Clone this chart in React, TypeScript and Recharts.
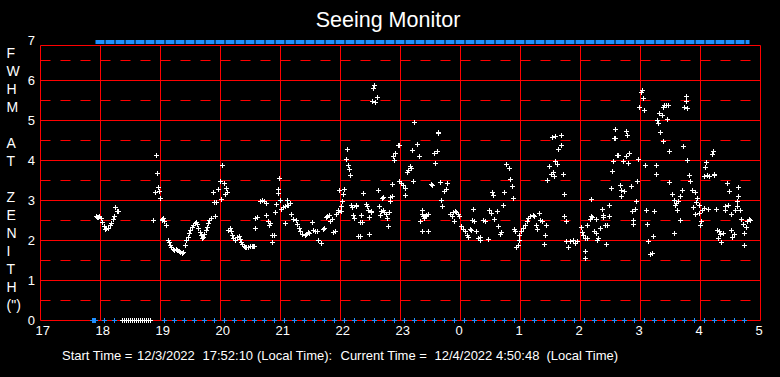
import React from "react";
import { ScatterChart, Scatter, XAxis, YAxis, ReferenceLine } from "recharts";

// ---------- data ----------
const hourTicks = [17, 18, 19, 20, 21, 22, 23, 24, 25, 26, 27, 28, 29];
const fwhmTicks = [0, 1, 2, 3, 4, 5, 6, 7];
const solidLevels = [0, 1, 2, 3, 4, 5, 6];
const dashedLevels = [0.5, 1.5, 2.5, 3.5, 4.5, 5.5, 6.5];
const frameTop = 6.875;
const bandLevel = 6.9625;

const title = "Seeing Monitor";
const axisLetters = ["F", "W", "H", "M", "", "A", "T", "", "Z", "E", "N", "I", "T", "H", "(\")"];
const footerParts = [
  "Start Time =",
  "12/3/2022",
  "17:52:10",
  "(Local Time):",
  "Current Time =",
  "12/4/2022",
  "4:50:48",
  "(Local Time)",
];

// coverage band along the top (start / end clock time)
const coverageSpan = ["17:55", "4:49"];

// status markers along the bottom
const statusBlueTimes = [
  "17:52", "17:53", "17:54", "17:55", "18:04", "18:14",
  "19:04", "19:14", "19:24", "19:34", "19:44", "19:54",
  "20:04", "20:14", "20:24", "20:34", "20:44", "20:54",
  "21:04", "21:14", "21:24", "21:34", "21:44", "21:54",
  "22:04", "22:14", "22:24", "22:34", "22:44", "22:54",
  "23:04", "23:14", "23:24", "23:34", "23:44", "23:54",
  "0:04", "0:14", "0:24", "0:34", "0:44", "0:54",
  "1:04", "1:14", "1:24", "1:34", "1:44", "1:54",
  "2:04", "2:14", "2:24", "2:34", "2:44", "2:54",
  "3:04", "3:14", "3:24", "3:34", "3:44", "3:54",
  "4:04", "4:14", "4:24", "4:34", "4:44",
];
const statusWhiteTimes = [
  "18:22", "18:24", "18:26", "18:28", "18:30", "18:32", "18:34", "18:36",
  "18:38", "18:40", "18:42", "18:44", "18:46", "18:48", "18:50",
];

// FWHM samples: [hour (next day = 24+), arcsec]
const seeing18: [number, number][] = [
  [17.93, 2.6], [17.95, 2.58], [17.96, 2.57], [17.98, 2.6], [18.02, 2.55], [18.04, 2.44], [18.07, 2.34],
  [18.09, 2.27], [18.1, 2.3], [18.13, 2.3], [18.16, 2.37], [18.18, 2.43], [18.21, 2.52], [18.23, 2.6],
  [18.25, 2.83], [18.28, 2.73], [18.3, 2.73],
];
const seeing19: [number, number][] = [
  [18.89, 2.5], [18.92, 3.19], [18.93, 4.12], [18.95, 3.68], [18.96, 3.33], [18.99, 3.23], [19.0, 3.05],
  [19.03, 2.52], [19.04, 2.5], [19.05, 2.55], [19.07, 2.47], [19.1, 2.38], [19.13, 2.0], [19.15, 1.95],
  [19.17, 1.88], [19.19, 1.82], [19.21, 1.78], [19.23, 1.76], [19.26, 1.77], [19.28, 1.75], [19.31, 1.73],
  [19.33, 1.7], [19.36, 1.68], [19.39, 1.7], [19.42, 1.88], [19.44, 2.0], [19.46, 2.08], [19.48, 2.18],
  [19.5, 2.26], [19.53, 2.33], [19.55, 2.38], [19.58, 2.42], [19.6, 2.46], [19.62, 2.4], [19.64, 2.3],
  [19.66, 2.2], [19.68, 2.12], [19.7, 2.06], [19.72, 2.08], [19.74, 2.16], [19.76, 2.25], [19.78, 2.33],
  [19.8, 2.42], [19.82, 2.5], [19.85, 2.55], [19.88, 3.2], [19.9, 2.95], [19.92, 2.6], [19.94, 2.95],
  [19.97, 3.28],
];
const seeing20: [number, number][] = [
  [20.0, 3.47], [20.02, 3.03], [20.04, 3.87], [20.06, 3.43], [20.08, 3.15], [20.1, 3.3], [20.11, 3.19],
  [20.13, 2.26], [20.16, 2.3], [20.18, 2.22], [20.2, 2.12], [20.22, 2.05], [20.25, 2.0], [20.28, 2.07],
  [20.31, 2.1], [20.33, 2.02], [20.35, 1.95], [20.37, 1.9], [20.4, 1.86], [20.42, 1.83], [20.44, 1.82],
  [20.47, 1.83], [20.5, 1.86], [20.53, 1.84], [20.55, 1.85], [20.57, 1.86], [20.58, 2.55], [20.59, 2.3],
  [20.62, 2.58], [20.66, 2.97], [20.7, 3.01], [20.73, 2.98], [20.77, 2.93], [20.76, 2.62], [20.8, 2.48],
  [20.83, 2.43], [20.81, 2.37], [20.86, 2.13], [20.9, 2.13], [20.87, 1.95], [20.92, 2.7], [20.94, 2.9],
  [20.96, 3.18], [20.97, 3.28], [20.98, 3.55],
];
const seeing21: [number, number][] = [
  [21.0, 3.0], [21.02, 2.78], [21.05, 2.82], [21.08, 2.84], [21.09, 2.43], [21.11, 2.87], [21.12, 3.01],
  [21.13, 2.88], [21.16, 2.93], [21.18, 2.65], [21.22, 2.53], [21.26, 2.51], [21.29, 2.4], [21.32, 2.3],
  [21.34, 2.22], [21.37, 2.15], [21.41, 2.12], [21.44, 2.15], [21.47, 2.2], [21.49, 2.18], [21.53, 2.45],
  [21.55, 2.26], [21.59, 2.22], [21.62, 2.22], [21.64, 2.01], [21.69, 1.93], [21.72, 2.28], [21.74, 2.3],
  [21.76, 2.57], [21.79, 2.59], [21.81, 2.63], [21.84, 2.48], [21.87, 2.53], [21.88, 2.2], [21.91, 2.22],
  [21.94, 2.65], [21.96, 2.76], [21.97, 2.7], [21.99, 3.26],
];
const seeing22: [number, number][] = [
  [22.01, 2.72], [22.02, 2.84], [22.03, 2.97], [22.05, 3.15], [22.07, 3.28], [22.1, 4.03], [22.12, 4.28],
  [22.13, 3.88], [22.15, 3.78], [22.17, 3.63], [22.19, 2.87], [22.2, 2.83], [22.22, 2.63], [22.23, 2.55],
  [22.26, 2.86], [22.27, 2.88], [22.3, 2.1], [22.33, 2.45], [22.34, 2.1], [22.35, 2.63], [22.37, 2.45],
  [22.39, 3.18], [22.44, 2.9], [22.45, 2.86], [22.47, 2.76], [22.48, 2.15], [22.49, 2.57], [22.51, 2.73],
  [22.52, 2.7], [22.53, 5.48], [22.55, 5.8], [22.56, 5.87], [22.59, 5.45], [22.62, 5.57], [22.63, 3.26],
  [22.65, 2.86], [22.67, 2.62], [22.69, 2.72], [22.7, 3.05], [22.71, 3.07], [22.72, 2.76], [22.74, 2.7],
  [22.77, 2.65], [22.79, 2.55], [22.8, 2.34], [22.81, 2.7], [22.83, 2.97], [22.84, 3.07], [22.86, 3.09],
  [22.87, 3.4], [22.88, 4.09], [22.9, 4.0], [22.91, 4.18], [22.96, 4.37], [22.98, 4.38], [22.99, 3.48],
];
const seeing23: [number, number][] = [
  [23.02, 3.43], [23.05, 3.37], [23.08, 3.3], [23.09, 3.13], [23.12, 3.7], [23.13, 3.76], [23.16, 3.84],
  [23.19, 3.8], [23.2, 4.26], [23.22, 3.48], [23.24, 4.95], [23.28, 4.4], [23.31, 4.11], [23.33, 2.48],
  [23.36, 2.22], [23.36, 2.65], [23.37, 2.76], [23.38, 2.59], [23.4, 2.55], [23.42, 2.59], [23.44, 2.62],
  [23.47, 2.65], [23.47, 2.23], [23.51, 3.4], [23.53, 3.38], [23.57, 4.18], [23.58, 3.93], [23.61, 4.23],
  [23.63, 4.7], [23.64, 4.68], [23.66, 3.45], [23.69, 3.01], [23.7, 2.84], [23.73, 3.22], [23.77, 3.28],
  [23.79, 3.43], [23.83, 2.65], [23.86, 2.59], [23.88, 2.7], [23.9, 2.48], [23.91, 2.73], [23.94, 2.7],
  [23.97, 2.65], [23.99, 2.59],
];
const seeing0: [number, number][] = [
  [24.02, 2.34], [24.05, 2.28], [24.08, 2.22], [24.11, 2.13], [24.13, 2.08], [24.16, 2.28], [24.19, 2.26],
  [24.2, 2.51], [24.21, 2.78], [24.24, 2.47], [24.26, 2.23], [24.3, 2.05], [24.33, 1.99], [24.34, 2.07],
  [24.38, 2.51], [24.41, 2.47], [24.47, 2.03], [24.48, 2.76], [24.52, 2.68], [24.53, 3.2], [24.55, 3.13],
  [24.57, 2.53], [24.61, 2.72], [24.63, 2.34], [24.66, 2.15], [24.68, 2.2], [24.71, 2.88], [24.73, 3.2],
  [24.76, 3.9], [24.81, 3.8], [24.83, 3.53], [24.86, 3.34], [24.88, 3.05], [24.9, 2.28], [24.92, 2.22],
  [24.94, 1.83], [24.96, 1.88], [24.98, 1.99],
];
const seeing1: [number, number][] = [
  [24.99, 2.12], [25.02, 2.22], [25.05, 2.3], [25.08, 2.38], [25.11, 2.47], [25.13, 2.55], [25.16, 2.59],
  [25.22, 2.63], [25.24, 2.59], [25.27, 2.38], [25.29, 2.28], [25.31, 2.68], [25.34, 2.51], [25.37, 2.47],
  [25.4, 1.9], [25.41, 2.13], [25.44, 2.38], [25.45, 3.5], [25.49, 3.84], [25.52, 3.65], [25.53, 4.57],
  [25.55, 3.7], [25.57, 3.59], [25.58, 4.59], [25.59, 3.98], [25.62, 3.9], [25.63, 4.28], [25.68, 4.37],
  [25.69, 4.63], [25.72, 3.65], [25.73, 3.15], [25.74, 2.59], [25.76, 2.47], [25.77, 1.98], [25.8, 1.82],
  [25.84, 1.97], [25.88, 2.01], [25.92, 1.93], [25.95, 1.98],
];
const seeing2: [number, number][] = [
  [26.01, 2.32], [26.03, 2.2], [26.05, 2.12], [26.08, 2.05], [26.08, 1.73], [26.09, 1.55], [26.11, 2.05],
  [26.12, 2.37], [26.16, 2.53], [26.18, 3.03], [26.19, 2.59], [26.2, 2.57], [26.23, 2.23], [26.26, 2.53],
  [26.26, 2.18], [26.28, 2.01], [26.3, 2.05], [26.34, 2.3], [26.36, 2.78], [26.38, 2.62], [26.39, 2.57],
  [26.42, 2.38], [26.43, 1.9], [26.45, 2.38], [26.48, 2.87], [26.49, 2.59], [26.52, 3.3], [26.53, 3.72],
  [26.55, 3.98], [26.56, 4.55], [26.59, 4.55], [26.59, 4.78], [26.62, 4.12], [26.63, 4.13], [26.66, 3.38],
  [26.68, 3.09], [26.69, 3.26], [26.72, 3.98], [26.73, 3.23], [26.76, 4.11], [26.77, 4.73], [26.78, 4.62],
  [26.8, 3.93], [26.82, 4.18], [26.85, 3.34], [26.87, 2.73], [26.88, 2.4], [26.89, 2.49], [26.91, 2.78],
  [26.93, 2.97], [26.95, 3.47], [26.97, 4.03], [26.99, 5.33],
];
const seeing3: [number, number][] = [
  [27.02, 5.7], [27.03, 5.76], [27.05, 5.55], [27.07, 5.26], [27.09, 3.88], [27.1, 2.76], [27.12, 2.4],
  [27.13, 1.98], [27.16, 1.65], [27.2, 1.68], [27.22, 2.11], [27.23, 2.72], [27.26, 3.65], [27.27, 3.88],
  [27.28, 5.01], [27.3, 4.93], [27.31, 5.18], [27.33, 4.7], [27.36, 5.13], [27.38, 4.48], [27.39, 5.33],
  [27.4, 5.37], [27.43, 5.38], [27.45, 5.03], [27.47, 5.38], [27.48, 4.23], [27.49, 3.45], [27.53, 3.15],
  [27.57, 2.18], [27.57, 3.01], [27.58, 2.87], [27.6, 2.93], [27.61, 2.76], [27.63, 2.97], [27.66, 3.09],
  [27.67, 2.5], [27.7, 3.26], [27.72, 4.36], [27.74, 5.33], [27.76, 5.47], [27.77, 5.59], [27.78, 5.3],
  [27.79, 4.0], [27.82, 3.63], [27.84, 3.48], [27.87, 3.26], [27.89, 2.82], [27.91, 3.2], [27.92, 2.65],
  [27.93, 2.95], [27.95, 3.05], [27.98, 2.88], [27.99, 2.68],
];
const seeing4: [number, number][] = [
  [28.0, 2.38], [28.02, 2.47], [28.04, 2.76], [28.06, 2.8], [28.07, 3.61], [28.09, 3.82], [28.1, 3.95],
  [28.12, 3.63], [28.14, 2.78], [28.15, 3.59], [28.2, 4.15], [28.21, 4.22], [28.23, 3.65], [28.24, 3.63],
  [28.27, 2.78], [28.28, 2.26], [28.3, 2.05], [28.31, 2.22], [28.34, 2.15], [28.35, 1.95], [28.39, 2.18],
  [28.41, 2.84], [28.42, 2.76], [28.45, 3.43], [28.47, 2.87], [28.48, 3.22], [28.51, 2.65], [28.52, 2.26],
  [28.54, 2.08], [28.56, 2.15], [28.58, 2.76], [28.62, 2.84], [28.62, 2.97], [28.63, 3.09], [28.64, 3.32],
  [28.67, 2.76], [28.69, 2.53], [28.71, 2.4], [28.73, 2.18], [28.74, 1.88], [28.77, 2.32], [28.78, 2.47],
  [28.81, 2.53], [28.84, 2.51],
];

// ---------- helpers ----------
const W = 780;
const H = 377;
const FONT = "'Liberation Sans', Arial, Helvetica, sans-serif";
const RED = "#ff0000";
const BLUE = "#1e8fff";
const WHITE = "#ffffff";

const toHour = (s: string) => {
  const [h, m] = s.split(":").map(Number);
  return (h < 12 ? h + 24 : h) + m / 60;
};

const seeingPoints = [
  ...seeing18, ...seeing19, ...seeing20, ...seeing21, ...seeing22, ...seeing23,
  ...seeing0, ...seeing1, ...seeing2, ...seeing3, ...seeing4,
].map(([h, v]) => ({ h, v }));
const bluePoints = statusBlueTimes.map((t) => ({ h: toHour(t), v: 0 }));
const whitePoints = statusWhiteTimes.map((t) => ({ h: toHour(t), v: 0 }));

const plusShape = (color: string) => (props: any) => {
  const { cx, cy } = props;
  if (typeof cx !== "number" || typeof cy !== "number") return <g />;
  const px = Math.floor(cx) + 0.5;
  const py = Math.floor(cy) + 0.5;
  return (
    <path
      d={`M${px - 2.5},${py}H${px + 2.5}M${px},${py - 2.5}V${py + 2.5}`}
      stroke={color}
      strokeWidth={1}
      fill="none"
      shapeRendering="crispEdges"
    />
  );
};

const XTick = (props: any) => {
  const { x, payload } = props;
  return (
    <text x={x - 5} y={335} textAnchor="start" fill={WHITE} fontSize={13} fontFamily={FONT}>
      {String(payload.value % 24)}
    </text>
  );
};

const YTick = (props: any) => {
  const { y, payload } = props;
  return (
    <text x={35} y={y + 4.5} textAnchor="end" fill={WHITE} fontSize={13} fontFamily={FONT}>
      {String(payload.value)}
    </text>
  );
};

const footerX = [62, 137, 202.5, 257, 340.5, 434.5, 496, 546.5];

export default function App() {
  return (
    <div style={{ position: "absolute", left: 0, top: 0, width: W, height: H, background: "#000", overflow: "hidden" }}>
      <div style={{ position: "absolute", left: 0, top: 0 }}>
        <ScatterChart width={W} height={H} margin={{ top: 40.5, right: 19.5, bottom: 0.5, left: 0.5 }}>
          <XAxis
            type="number"
            dataKey="h"
            domain={[17, 29]}
            ticks={hourTicks}
            interval={0}
            axisLine={false}
            tickLine={false}
            height={56}
            tick={XTick}
          />
          <YAxis
            type="number"
            dataKey="v"
            domain={[0, 7]}
            ticks={fwhmTicks}
            interval={0}
            axisLine={false}
            tickLine={false}
            width={40}
            tick={YTick}
          />
          {dashedLevels.map((v) => (
            <ReferenceLine key={`d${v}`} y={v} stroke={RED} strokeWidth={1} strokeDasharray="10 10" />
          ))}
          {solidLevels.map((v) => (
            <ReferenceLine key={`s${v}`} y={v} stroke={RED} strokeWidth={1} />
          ))}
          <ReferenceLine
            segment={[{ x: 17, y: frameTop }, { x: 29, y: frameTop }]}
            stroke={RED}
            strokeWidth={1}
          />
          {hourTicks.map((h) => (
            <ReferenceLine
              key={`v${h}`}
              segment={[{ x: h, y: 0 }, { x: h, y: frameTop }]}
              stroke={RED}
              strokeWidth={1}
            />
          ))}
          <ReferenceLine
            segment={[
              { x: toHour(coverageSpan[0]), y: bandLevel },
              { x: toHour(coverageSpan[1]), y: bandLevel },
            ]}
            stroke={BLUE}
            strokeWidth={4}
            strokeDasharray="9 1"
          />
          <Scatter data={seeingPoints} shape={plusShape(WHITE)} isAnimationActive={false} />
          <Scatter data={bluePoints} shape={plusShape(BLUE)} isAnimationActive={false} />
          <Scatter data={whitePoints} shape={plusShape(WHITE)} isAnimationActive={false} />
        </ScatterChart>
      </div>
      <svg
        width={W}
        height={H}
        style={{ position: "absolute", left: 0, top: 0, pointerEvents: "none" }}
      >
        <text x={388} y={27} textAnchor="middle" fill={WHITE} fontSize={21.5} fontFamily={FONT}>
          {title}
        </text>
        {axisLetters.map((ch, i) =>
          ch ? (
            <text key={i} x={6.5} y={58.3 + 18 * i} fill={WHITE} fontSize={14} fontFamily={FONT}>
              {ch}
            </text>
          ) : null
        )}
        <text y={360} fill={WHITE} fontSize={13} fontFamily={FONT}>
          {footerParts.map((p, i) => (
            <tspan key={i} x={footerX[i]}>
              {p}
            </tspan>
          ))}
        </text>
      </svg>
    </div>
  );
}
